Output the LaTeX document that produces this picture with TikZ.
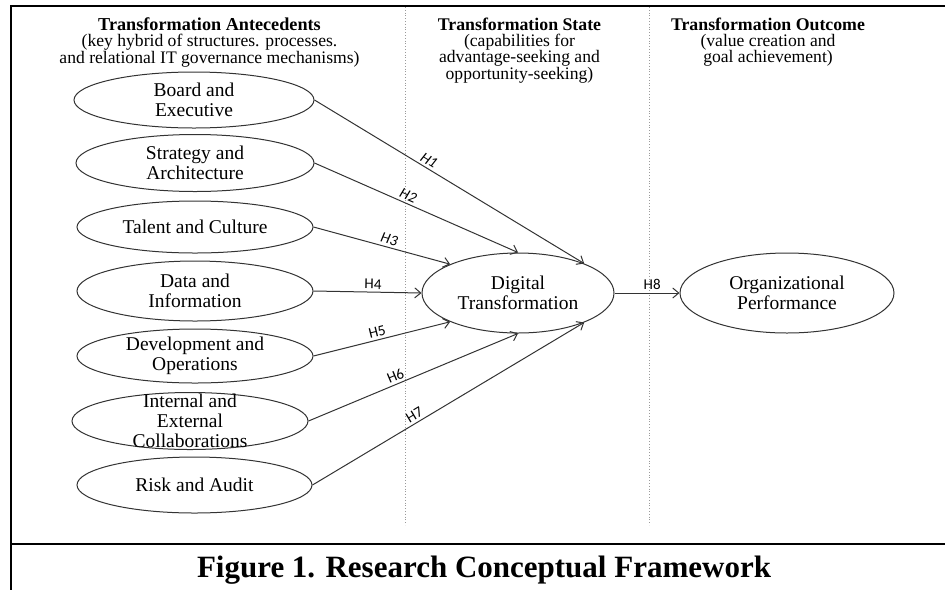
\documentclass[tikz,border=0pt]{standalone}
\usepackage{fontspec}
\setmainfont{Liberation Serif}
\newfontfamily\hypfont{Carlito}
\usetikzlibrary{shapes.geometric,arrows.meta}
\definecolor{linegray}{HTML}{333333}
\definecolor{guidegray}{HTML}{9A9A9A}
\begin{document}
\begin{tikzpicture}[x=1pt,y=-1pt,
  oval/.style={draw=linegray, line width=1pt, ellipse, inner sep=0pt, fill=white},
  ovaltext/.style={align=center, font=\fontsize{19.5}{20}\selectfont, inner sep=0pt},
  colhead/.style={align=center, font=\fontsize{17.6}{16.3}\selectfont, inner sep=0pt, anchor=north},
  link/.style={draw=linegray, line width=1pt, -{Straight Barb[length=6pt,width=10pt]}},
  hyp/.style={font=\hypfont\fontsize{15}{15}\selectfont, sloped, above, inner sep=2.5pt},
  hypit/.style={hyp, font=\hypfont\itshape\fontsize{15}{15}\selectfont},
  guide/.style={draw=guidegray, dotted, line width=0.8pt},
  frameline/.style={line width=2.6pt, black, line join=miter}]

\useasboundingbox (0,0) rectangle (945,590);

% outer frame and caption rule
\draw[frameline] (945,6) -- (11,6) -- (11,590);
\draw[frameline] (11,544) -- (945,544);

% column separators
\draw[guide] (405,7) -- (405,525);
\draw[guide] (649,7) -- (649,525);

% column headings
\node[colhead] (hA) at (209.5,17.5) {\textbf{\fontsize{18.2}{16.3}\selectfont Transformation Antecedents}\\(key hybrid of structures. processes.\\and relational IT governance mechanisms)};
\node[colhead] (hS) at (519.5,17.5) {\textbf{\fontsize{17.8}{16.3}\selectfont Transformation State}\\(capabilities for\\advantage-seeking and\\opportunity-seeking)};
\node[colhead] (hO) at (768,17.5) {\textbf{\fontsize{17.8}{16.3}\selectfont Transformation Outcome}\\(value creation and\\goal achievement)};

% antecedents
\node[oval, minimum width=240, minimum height=56, label={[ovaltext]center:Board and\\Executive}] (be) at (194,100) {};
\node[oval, minimum width=238, minimum height=57, label={[ovaltext]center:Strategy and\\Architecture}] (sa) at (195,163) {};
\node[oval, minimum width=236, minimum height=52, label={[ovaltext]center:Talent and Culture}] (tc) at (195,227) {};
\node[oval, minimum width=236, minimum height=60, label={[ovaltext]center:Data and\\Information}] (di) at (195,291) {};
\node[oval, minimum width=236, minimum height=54, label={[ovaltext]center:Development and\\Operations}] (do) at (195,356) {};
\node[oval, minimum width=236, minimum height=57, label={[ovaltext]center:Internal and\\External\\Collaborations}] (iec) at (190,421) {};
\node[oval, minimum width=235, minimum height=56, label={[ovaltext]center:Risk and Audit}] (ra) at (194.5,485) {};

% state and outcome
\node[oval, minimum width=192, minimum height=80, label={[ovaltext]center:Digital\\Transformation}] (dt) at (518,293) {};
\node[oval, minimum width=214, minimum height=80, label={[ovaltext]center:Organizational\\Performance}] (op) at (787,293) {};

% hypothesised paths
\draw[link] (be.east) -- node[hypit, pos=0.41] {H1} (dt.24);
\draw[link] (sa.east) -- node[hypit, pos=0.445] {H2} (dt.north);
\draw[link] (tc.east) -- node[hypit, pos=0.54] {H3} (dt.157);
\draw[link] (di.east) -- node[hyp, pos=0.55] {H4} (dt.west);
\draw[link] (do.east) -- node[hyp, pos=0.48] {H5} (dt.203);
\draw[link] (iec.east) -- node[hyp, pos=0.43] {H6} (dt.south);
\draw[link] (ra.east) -- node[hyp, pos=0.39] {H7} (dt.336);
\draw[link] (dt.east) -- node[hyp, pos=0.58] {H8} (op.west);

% caption
\node[font=\bfseries\fontsize{31}{31}\selectfont, anchor=base, inner sep=0pt] (cap) at (484,577) {Figure 1. Research Conceptual Framework};
\end{tikzpicture}
\end{document}
